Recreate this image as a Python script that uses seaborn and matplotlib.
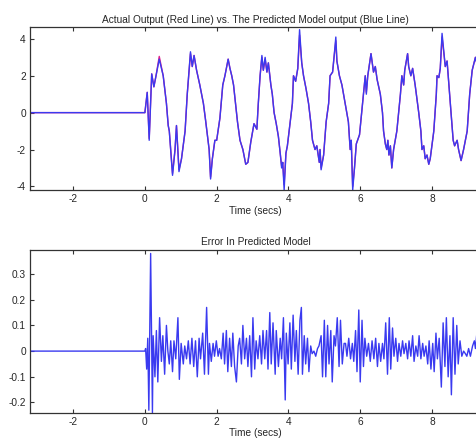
import matplotlib
matplotlib.use('Agg')
import matplotlib.pyplot as plt
import seaborn as sns
import pandas as pd

# Time axis (secs) and output values
time_out = [-3.2, 0.0, 0.065, 0.12, 0.19, 0.25, 0.31, 0.40, 0.51, 0.60, 0.65, 0.68, 0.77, 0.84, 0.88, 0.95,
            1.02, 1.12, 1.18, 1.27, 1.32, 1.37, 1.44, 1.53, 1.63, 1.69, 1.74, 1.79, 1.83, 1.88, 1.95,
            2.00, 2.09, 2.17, 2.23, 2.32, 2.37, 2.42, 2.47, 2.53, 2.58, 2.65, 2.73, 2.81, 2.87, 2.95,
            3.04, 3.12, 3.16, 3.21, 3.26, 3.30, 3.35, 3.40, 3.44, 3.51, 3.55, 3.60, 3.66, 3.72, 3.77,
            3.81, 3.84, 3.88, 3.93, 3.97, 4.05, 4.11, 4.14, 4.20, 4.26, 4.31, 4.37, 4.42, 4.49, 4.56,
            4.62, 4.67, 4.74, 4.79, 4.86, 4.88, 4.91, 4.98, 5.05, 5.12, 5.16, 5.23, 5.27, 5.32, 5.35,
            5.42, 5.49, 5.58, 5.67, 5.72, 5.75, 5.79, 5.84, 5.89, 5.98, 6.05, 6.14, 6.17, 6.21, 6.30,
            6.37, 6.42, 6.47, 6.56, 6.62, 6.65, 6.70, 6.74, 6.77, 6.80, 6.84, 6.88, 6.93, 7.02, 7.12,
            7.16, 7.21, 7.24, 7.32, 7.35, 7.41, 7.46, 7.53, 7.63, 7.69, 7.72, 7.77, 7.81, 7.86, 7.91,
            7.95, 8.05, 8.12, 8.14, 8.19, 8.23, 8.28, 8.37, 8.42, 8.47, 8.53, 8.59, 8.63, 8.70, 8.74,
            8.81, 8.88, 8.98, 9.05, 9.12, 9.21, 9.27, 9.40]

actual_out = [0.0, 0.0, 1.1, -1.4, 2.1, 1.4, 2.0, 3.05, 2.0, 0.5, -0.7, -1.0, -3.3, -2.0, -0.7, -3.1,
              -2.5, -1.0, 1.0, 3.2, 2.5, 3.1, 2.3, 1.5, 0.5, -0.4, -1.2, -2.0, -3.5, -2.5, -1.5,
              -1.5, -0.3, 1.5, 2.0, 2.9, 2.4, 2.0, 1.5, 0.4, -0.5, -1.5, -2.0, -2.8, -2.7, -1.6,
              -0.6, -0.9, 0.5, 2.0, 3.0, 2.3, 2.9, 2.2, 2.7, 1.5, 1.0, 0.0, -0.6, -1.3, -2.2,
              -2.9, -2.7, -3.9, -2.2, -1.8, -0.5, 0.5, 2.0, 1.7, 2.4, 4.2, 2.7, 2.0, 1.3, 0.5,
              -0.5, -1.5, -2.0, -1.8, -2.7, -2.0, -3.0, -2.3, -0.5, 0.5, 2.0, 2.2, 3.0, 3.9, 2.8,
              2.0, 1.5, 0.5, -0.5, -2.0, -1.5, -4.0, -3.0, -1.7, -1.2, 0.2, 2.0, 1.1, 2.0, 3.2,
              2.2, 2.5, 1.8, 1.0, 0.0, -1.0, -1.7, -2.0, -1.5, -2.3, -1.8, -3.0, -2.0, -1.0, 1.0,
              2.0, 1.5, 2.3, 3.2, 2.5, 2.0, 2.4, 1.5, 0.0, -1.0, -2.0, -1.8, -2.5, -2.3, -2.8,
              -2.5, -1.0, 1.0, 2.0, 1.9, 2.4, 4.1, 2.5, 2.8, 1.5, 0.0, -1.5, -1.8, -1.5, -2.0,
              -2.6, -2.0, -1.0, 1.0, 2.3, 3.0, 2.5, 1.8]

predicted_out = [0.0, 0.0, 1.1, -1.5, 2.1, 1.4, 2.0, 2.9, 2.0, 0.5, -0.7, -1.0, -3.4, -2.0, -0.7, -3.2,
                 -2.5, -1.0, 1.0, 3.3, 2.5, 3.1, 2.3, 1.5, 0.5, -0.4, -1.2, -2.0, -3.6, -2.5, -1.5,
                 -1.5, -0.3, 1.5, 2.0, 2.9, 2.4, 2.0, 1.5, 0.4, -0.5, -1.5, -2.0, -2.8, -2.7, -1.6,
                 -0.6, -0.9, 0.5, 2.0, 3.1, 2.3, 3.0, 2.2, 2.7, 1.5, 1.0, 0.0, -0.6, -1.3, -2.2,
                 -3.0, -2.7, -4.2, -2.2, -1.8, -0.5, 0.5, 2.0, 1.7, 2.4, 4.5, 2.7, 2.0, 1.3, 0.5,
                 -0.5, -1.5, -2.0, -1.8, -2.7, -2.0, -3.1, -2.3, -0.5, 0.5, 2.0, 2.2, 3.0, 4.1, 2.8,
                 2.0, 1.5, 0.5, -0.5, -2.0, -1.5, -4.2, -3.0, -1.7, -1.2, 0.2, 2.0, 1.0, 2.0, 3.2,
                 2.2, 2.5, 1.8, 1.0, 0.0, -1.0, -1.7, -2.0, -1.5, -2.3, -1.8, -3.0, -2.0, -1.0, 1.0,
                 2.0, 1.5, 2.3, 3.2, 2.5, 2.0, 2.4, 1.5, 0.0, -1.0, -2.0, -1.8, -2.5, -2.3, -2.8,
                 -2.5, -1.0, 1.0, 2.0, 1.9, 2.4, 4.3, 2.5, 2.8, 1.5, 0.0, -1.5, -1.8, -1.5, -2.0,
                 -2.6, -2.0, -1.0, 1.0, 2.3, 3.0, 2.5, 1.8]

# Error in predicted model (bottom panel)
time_err = [-3.2, 0.0, 0.02, 0.05, 0.08, 0.11, 0.16, 0.21, 0.23, 0.28, 0.32, 0.36, 0.41, 0.46, 0.50,
            0.55, 0.60, 0.64, 0.68, 0.72, 0.77, 0.81, 0.86, 0.92, 0.96, 1.01, 1.07, 1.11, 1.16,
            1.21, 1.26, 1.31, 1.36, 1.41, 1.46, 1.51, 1.55, 1.61, 1.66, 1.72, 1.77, 1.80, 1.85,
            1.90, 1.94, 1.99, 2.04, 2.08, 2.13, 2.18, 2.22, 2.27, 2.31, 2.36, 2.41, 2.45, 2.50,
            2.55, 2.60, 2.64, 2.69, 2.73, 2.78, 2.83, 2.87, 2.92, 2.97, 3.01, 3.06, 3.10, 3.15,
            3.20, 3.25, 3.29, 3.34, 3.39, 3.43, 3.48, 3.52, 3.57, 3.63, 3.66, 3.72, 3.77, 3.81,
            3.86, 3.91, 3.94, 3.99, 4.04, 4.08, 4.13, 4.18, 4.22, 4.27, 4.32, 4.36, 4.39, 4.44,
            4.48, 4.53, 4.57, 4.62, 4.66, 4.71, 4.76, 4.81, 4.85, 4.91, 4.95, 5.00, 5.04, 5.09,
            5.13, 5.18, 5.22, 5.27, 5.31, 5.36, 5.41, 5.45, 5.50, 5.55, 5.59, 5.63, 5.68, 5.73,
            5.78, 5.82, 5.87, 5.91, 5.96, 6.00, 6.05, 6.09, 6.13, 6.18, 6.23, 6.28, 6.33, 6.38,
            6.43, 6.48, 6.52, 6.57, 6.62, 6.66, 6.71, 6.76, 6.81, 6.85, 6.90, 6.94, 6.99, 7.04,
            7.08, 7.13, 7.18, 7.22, 7.27, 7.32, 7.36, 7.41, 7.46, 7.50, 7.55, 7.60, 7.64, 7.69,
            7.74, 7.78, 7.83, 7.88, 7.92, 7.97, 8.02, 8.06, 8.11, 8.15, 8.20, 8.26, 8.31, 8.36,
            8.40, 8.45, 8.50, 8.54, 8.59, 8.64, 8.69, 8.73, 8.78, 8.83, 8.88, 8.93, 8.97, 9.02,
            9.07, 9.13, 9.18, 9.21, 9.25, 9.29, 9.40]

error_vals = [0.0, 0.0, 0.01, -0.07, 0.05, -0.23, 0.38, -0.24, 0.06, -0.10, 0.08, -0.12, 0.13, -0.04, 0.06,
              -0.09, 0.10, 0.0, -0.05, 0.04, -0.08, 0.04, -0.03, 0.13, -0.11, 0.03, -0.05, 0.02, -0.03,
              0.04, -0.05, 0.05, -0.06, 0.04, -0.10, 0.05, -0.03, 0.07, -0.09, 0.17, -0.09, 0.03, -0.04,
              0.03, -0.02, 0.04, -0.02, 0.01, -0.03, 0.07, -0.05, 0.08, -0.08, 0.05, -0.06, 0.07, -0.06,
              -0.12, 0.02, 0.05, -0.05, 0.10, -0.03, 0.05, -0.06, 0.06, -0.10, 0.13, -0.07, 0.04, -0.03,
              0.06, -0.05, 0.08, -0.03, 0.08, -0.07, 0.15, -0.05, 0.11, -0.09, 0.08, -0.06, 0.05, -0.03,
              0.13, -0.19, 0.07, -0.05, 0.11, -0.07, 0.14, -0.04, 0.08, -0.09, 0.12, 0.17, -0.09, 0.06,
              -0.05, 0.05, -0.08, 0.02, -0.01, 0.0, -0.02, 0.01, 0.02, 0.06, -0.10, 0.12, -0.10, 0.10,
              -0.05, 0.08, -0.12, 0.06, 0.02, 0.13, -0.06, 0.12, -0.05, 0.03, 0.03, -0.02, 0.05, -0.03,
              0.03, -0.04, 0.08, -0.08, 0.16, -0.12, 0.12, -0.06, 0.05, -0.02, 0.03, -0.04, 0.04, -0.03,
              0.05, -0.06, 0.03, -0.04, 0.03, -0.03, 0.11, -0.09, 0.13, -0.07, 0.09, -0.02, 0.05, -0.04,
              0.03, -0.02, 0.04, -0.01, 0.03, -0.03, 0.04, -0.02, 0.06, -0.04, 0.02, -0.02, 0.06, -0.03,
              0.03, -0.02, 0.02, -0.05, 0.04, -0.07, 0.03, -0.08, 0.07, -0.03, 0.05, -0.14, 0.11, -0.06,
              0.13, -0.10, 0.06, -0.17, 0.13, -0.09, 0.10, -0.05, 0.04, -0.02, 0.0, -0.01, -0.02, 0.01,
              -0.02, 0.02, 0.04, 0.01, 0.07, 0.05, 0.05]

x_ticks = [-2, 0, 2, 4, 6, 8]
top_yticks = [-4, -2, 0, 2, 4]
err_yticks = [-0.2, -0.1, 0, 0.1, 0.2, 0.3]
err_ylabels = ['-0.2', '-0.1', '0', '0.1', '0.2', '0.3']

sns.set_style('ticks')
plt.rcParams['font.family'] = ['Liberation Sans', 'DejaVu Sans']
plt.rcParams['axes.unicode_minus'] = False
plt.rcParams['xtick.direction'] = 'in'
plt.rcParams['ytick.direction'] = 'in'

df_out = pd.DataFrame({'time': time_out, 'actual': actual_out, 'predicted': predicted_out})
df_err = pd.DataFrame({'time': time_err, 'error': error_vals})

fig = plt.figure(figsize=(4.77, 4.41), dpi=100)
ax1 = fig.add_axes([0.063, 0.569, 0.945, 0.370])
ax2 = fig.add_axes([0.063, 0.064, 0.945, 0.370])

blue = '#3a3af0'
fs = 7.3

# Top: actual (red) under predicted (blue)
sns.lineplot(data=df_out, x='time', y='actual', ax=ax1, color='#e0208a',
             linewidth=1.0, sort=False, estimator=None)
sns.lineplot(data=df_out, x='time', y='predicted', ax=ax1, color=blue,
             linewidth=1.0, sort=False, estimator=None)
ax1.set_xlim(-3.2, 9.36)
ax1.set_ylim(-4.2, 4.65)
ax1.set_yticks(top_yticks)
ax1.set_title('Actual Output (Red Line) vs. The Predicted Model output (Blue Line)', fontsize=fs, pad=3)
ax1.set_ylabel('')

# Bottom: error
sns.lineplot(data=df_err, x='time', y='error', ax=ax2, color=blue,
             linewidth=1.0, sort=False, estimator=None)
ax2.set_xlim(-3.2, 9.36)
ax2.set_ylim(-0.24, 0.395)
ax2.set_yticks(err_yticks)
ax2.set_yticklabels(err_ylabels)
ax2.set_title('Error In Predicted Model', fontsize=fs, pad=3)
ax2.set_ylabel('')

for ax in (ax1, ax2):
    ax.set_xticks(x_ticks)
    ax.set_xlabel('Time (secs)', fontsize=fs, labelpad=1)
    ax.tick_params(labelsize=fs, length=3, width=0.8, color='#333333',
                   top=True, right=False, pad=3)
    for s in ax.spines.values():
        s.set_visible(True)
        s.set_color('#333333')
        s.set_linewidth(0.9)

fig.savefig('out.png', dpi=100)
